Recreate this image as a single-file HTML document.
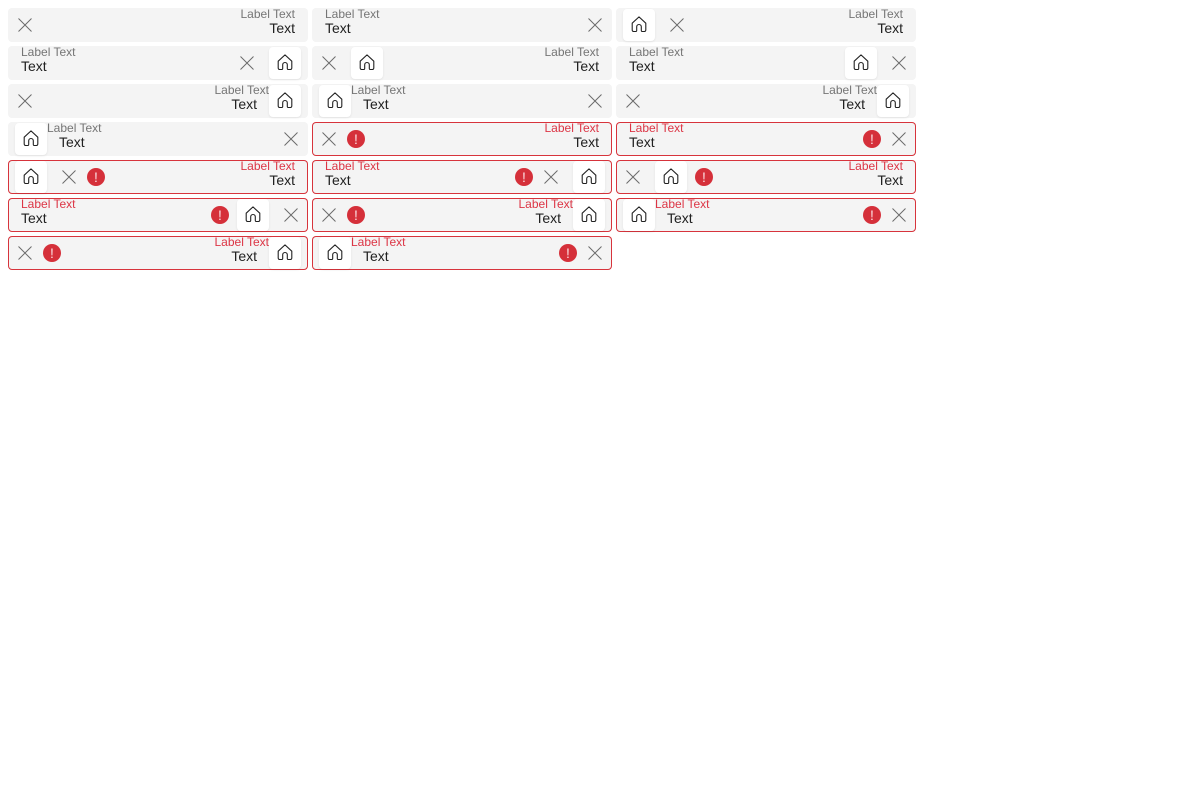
<!DOCTYPE html>
<html lang="en">
<head>
<meta charset="utf-8">
<title>Text fields</title>
<style>
html,body{margin:0;padding:0;width:1200px;height:800px;background:#fff;overflow:hidden;font-family:"Liberation Sans",sans-serif}
.f{position:absolute;width:300px;height:34px;background:#f4f4f4;border-radius:4px;box-sizing:border-box}
.f.e{box-shadow:inset 0 0 0 1px #d7343c}
.l,.t{position:absolute;white-space:nowrap}
.l{top:-1px;font-size:12px;line-height:14px;color:#757575}
.e .l{top:-1px;color:#dc3545}
.t{top:11px;font-size:14px;line-height:18px;color:#212121}
.r{transform:translateX(-100%)}
.h{position:absolute;top:1px;width:32px;height:32px;background:#fff;border-radius:4px;box-shadow:0 1px 2px rgba(0,0,0,.08)}
.h svg{position:absolute;left:8px;top:7px;width:16px;height:16px}
.x{position:absolute;top:10px;width:14px;height:14px;margin-left:-7px}
.a{position:absolute;top:8px;width:18px;height:18px;margin-left:-9px;border-radius:50%;background:#d5303a;color:#fbdde0;font-size:14px;line-height:18px;text-align:center}
</style>
</head>
<body>
<svg width="0" height="0" style="position:absolute">
<defs>
<symbol id="home" viewBox="0 0 16 16"><path d="M1.200 7.200 8 .9l6.800 6.300v6.800a1.500 1.500 0 0 1-1.500 1.500h-2a1 1 0 0 1-1-1V10.800a2.300 2.300 0 0 0-4.600 0V14.500a1 1 0 0 1-1 1h-2a1.500 1.500 0 0 1-1.500-1.500Z" fill="none" stroke="#222" stroke-width="1.100" stroke-linejoin="round"/></symbol>
<symbol id="close" viewBox="0 0 14 14"><path d="M.5.500l13 13M13.500.500l-13 13" fill="none" stroke="#6b6b6b" stroke-width="1"/></symbol>
</defs>
</svg>

<!-- Row 1 -->
<div class="f" style="left:8px;top:8px">
<svg class="x" style="left:17px"><use href="#close"/></svg>
<span class="l r" style="left:287px">Label Text</span>
<span class="t r" style="left:287px">Text</span>
</div>
<div class="f" style="left:312px;top:8px">
<span class="l" style="left:13px">Label Text</span>
<span class="t" style="left:13px">Text</span>
<svg class="x" style="left:283px"><use href="#close"/></svg>
</div>
<div class="f" style="left:616px;top:8px">
<div class="h" style="left:7px"><svg><use href="#home"/></svg></div>
<svg class="x" style="left:61px"><use href="#close"/></svg>
<span class="l r" style="left:287px">Label Text</span>
<span class="t r" style="left:287px">Text</span>
</div>

<!-- Row 2 -->
<div class="f" style="left:8px;top:46px">
<span class="l" style="left:13px">Label Text</span>
<span class="t" style="left:13px">Text</span>
<svg class="x" style="left:239px"><use href="#close"/></svg>
<div class="h" style="left:261px"><svg><use href="#home"/></svg></div>
</div>
<div class="f" style="left:312px;top:46px">
<svg class="x" style="left:17px"><use href="#close"/></svg>
<div class="h" style="left:39px"><svg><use href="#home"/></svg></div>
<span class="l r" style="left:287px">Label Text</span>
<span class="t r" style="left:287px">Text</span>
</div>
<div class="f" style="left:616px;top:46px">
<span class="l" style="left:13px">Label Text</span>
<span class="t" style="left:13px">Text</span>
<div class="h" style="left:229px"><svg><use href="#home"/></svg></div>
<svg class="x" style="left:283px"><use href="#close"/></svg>
</div>

<!-- Row 3 -->
<div class="f" style="left:8px;top:84px">
<svg class="x" style="left:17px"><use href="#close"/></svg>
<span class="l r" style="left:261px">Label Text</span>
<span class="t r" style="left:249px">Text</span>
<div class="h" style="left:261px"><svg><use href="#home"/></svg></div>
</div>
<div class="f" style="left:312px;top:84px">
<div class="h" style="left:7px"><svg><use href="#home"/></svg></div>
<span class="l" style="left:39px">Label Text</span>
<span class="t" style="left:51px">Text</span>
<svg class="x" style="left:283px"><use href="#close"/></svg>
</div>
<div class="f" style="left:616px;top:84px">
<svg class="x" style="left:17px"><use href="#close"/></svg>
<span class="l r" style="left:261px">Label Text</span>
<span class="t r" style="left:249px">Text</span>
<div class="h" style="left:261px"><svg><use href="#home"/></svg></div>
</div>

<!-- Row 4 -->
<div class="f" style="left:8px;top:122px">
<div class="h" style="left:7px"><svg><use href="#home"/></svg></div>
<span class="l" style="left:39px">Label Text</span>
<span class="t" style="left:51px">Text</span>
<svg class="x" style="left:283px"><use href="#close"/></svg>
</div>
<div class="f e" style="left:312px;top:122px">
<svg class="x" style="left:17px"><use href="#close"/></svg>
<span class="a" style="left:44px">!</span>
<span class="l r" style="left:287px">Label Text</span>
<span class="t r" style="left:287px">Text</span>
</div>
<div class="f e" style="left:616px;top:122px">
<span class="l" style="left:13px">Label Text</span>
<span class="t" style="left:13px">Text</span>
<span class="a" style="left:256px">!</span>
<svg class="x" style="left:283px"><use href="#close"/></svg>
</div>

<!-- Row 5 -->
<div class="f e" style="left:8px;top:160px">
<div class="h" style="left:7px"><svg><use href="#home"/></svg></div>
<svg class="x" style="left:61px"><use href="#close"/></svg>
<span class="a" style="left:88px">!</span>
<span class="l r" style="left:287px">Label Text</span>
<span class="t r" style="left:287px">Text</span>
</div>
<div class="f e" style="left:312px;top:160px">
<span class="l" style="left:13px">Label Text</span>
<span class="t" style="left:13px">Text</span>
<span class="a" style="left:212px">!</span>
<svg class="x" style="left:239px"><use href="#close"/></svg>
<div class="h" style="left:261px"><svg><use href="#home"/></svg></div>
</div>
<div class="f e" style="left:616px;top:160px">
<svg class="x" style="left:17px"><use href="#close"/></svg>
<div class="h" style="left:39px"><svg><use href="#home"/></svg></div>
<span class="a" style="left:88px">!</span>
<span class="l r" style="left:287px">Label Text</span>
<span class="t r" style="left:287px">Text</span>
</div>

<!-- Row 6 -->
<div class="f e" style="left:8px;top:198px">
<span class="l" style="left:13px">Label Text</span>
<span class="t" style="left:13px">Text</span>
<span class="a" style="left:212px">!</span>
<div class="h" style="left:229px"><svg><use href="#home"/></svg></div>
<svg class="x" style="left:283px"><use href="#close"/></svg>
</div>
<div class="f e" style="left:312px;top:198px">
<svg class="x" style="left:17px"><use href="#close"/></svg>
<span class="a" style="left:44px">!</span>
<span class="l r" style="left:261px">Label Text</span>
<span class="t r" style="left:249px">Text</span>
<div class="h" style="left:261px"><svg><use href="#home"/></svg></div>
</div>
<div class="f e" style="left:616px;top:198px">
<div class="h" style="left:7px"><svg><use href="#home"/></svg></div>
<span class="l" style="left:39px">Label Text</span>
<span class="t" style="left:51px">Text</span>
<span class="a" style="left:256px">!</span>
<svg class="x" style="left:283px"><use href="#close"/></svg>
</div>

<!-- Row 7 -->
<div class="f e" style="left:8px;top:236px">
<svg class="x" style="left:17px"><use href="#close"/></svg>
<span class="a" style="left:44px">!</span>
<span class="l r" style="left:261px">Label Text</span>
<span class="t r" style="left:249px">Text</span>
<div class="h" style="left:261px"><svg><use href="#home"/></svg></div>
</div>
<div class="f e" style="left:312px;top:236px">
<div class="h" style="left:7px"><svg><use href="#home"/></svg></div>
<span class="l" style="left:39px">Label Text</span>
<span class="t" style="left:51px">Text</span>
<span class="a" style="left:256px">!</span>
<svg class="x" style="left:283px"><use href="#close"/></svg>
</div>
</body>
</html>
